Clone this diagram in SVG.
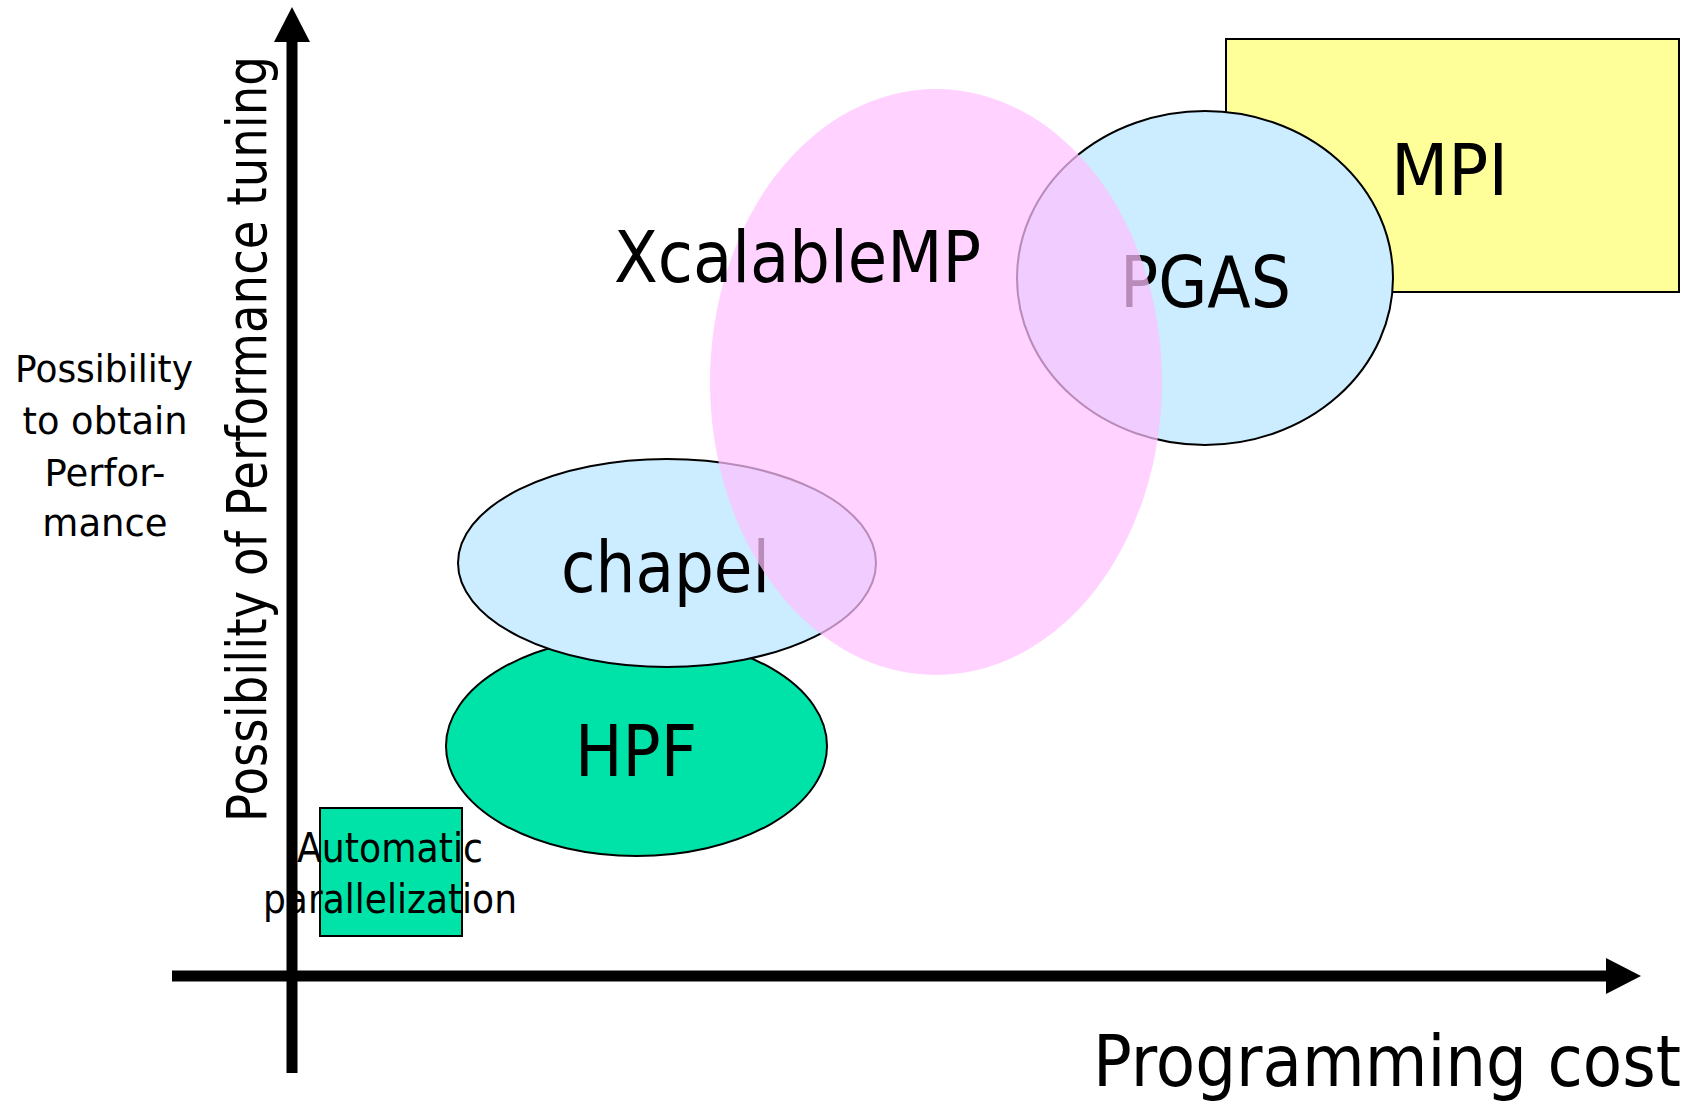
<svg xmlns="http://www.w3.org/2000/svg" width="1695" height="1104" viewBox="0 0 1695 1104">
<style>
.t{font-family:"DejaVu Sans","Liberation Sans",sans-serif;fill:#000}
.big{font-size:72px}
.ol{stroke:#000;stroke-width:2}
</style>
<rect width="1695" height="1104" fill="#fff"/>
<g id="mpi">
<rect x="1226" y="39" width="453" height="253" fill="#FFFF99" class="ol"/>
<text class="t big" x="1391" y="195" textLength="117" lengthAdjust="spacingAndGlyphs">MPI</text>
</g>
<g id="pgas">
<ellipse cx="1205" cy="278" rx="188" ry="167" fill="#CCECFF" class="ol"/>
<text class="t big" x="1120" y="307" textLength="171" lengthAdjust="spacingAndGlyphs">PGAS</text>
</g>
<g id="hpf">
<ellipse cx="636.5" cy="746" rx="190.5" ry="110" fill="#00E3A8" class="ol"/>
<text class="t big" x="575" y="776" textLength="122" lengthAdjust="spacingAndGlyphs">HPF</text>
</g>
<g id="chapel">
<ellipse cx="667" cy="563" rx="209" ry="104" fill="#CCECFF" class="ol"/>
<text class="t big" x="561" y="592" textLength="209" lengthAdjust="spacingAndGlyphs">chapel</text>
</g>
<g id="xcalablemp">
<ellipse cx="936" cy="382" rx="226" ry="293" fill="#FFC0FF" fill-opacity="0.72"/>
<text class="t big" x="614" y="282" textLength="367" lengthAdjust="spacingAndGlyphs">XcalableMP</text>
</g>
<g id="auto">
<rect x="320" y="808" width="142" height="128" fill="#00E3A8" class="ol"/>
<text class="t" font-size="40" x="297" y="862" textLength="186" lengthAdjust="spacingAndGlyphs">Automatic</text>
<text class="t" font-size="40" x="263" y="913" textLength="254" lengthAdjust="spacingAndGlyphs">parallelization</text>
</g>
<g id="axes">
<line x1="292" y1="40" x2="292" y2="1073" stroke="#000" stroke-width="11"/>
<polygon points="292,7 274,42 310,42" fill="#000"/>
<line x1="172" y1="976" x2="1608" y2="976" stroke="#000" stroke-width="11"/>
<polygon points="1641,976 1606,958 1606,994" fill="#000"/>
</g>
<g id="labels">
<text class="t" font-size="56" transform="translate(266,439) rotate(-90)" text-anchor="middle" textLength="766" lengthAdjust="spacingAndGlyphs">Possibility of Performance tuning</text>
<text class="t" font-size="72" x="1093" y="1086" textLength="588" lengthAdjust="spacingAndGlyphs">Programming cost</text>
<g font-size="37" text-anchor="middle">
<text class="t" x="104" y="382" textLength="178" lengthAdjust="spacingAndGlyphs">Possibility</text>
<text class="t" x="105" y="434" textLength="165" lengthAdjust="spacingAndGlyphs">to obtain</text>
<text class="t" x="105" y="486">Perfor-</text>
<text class="t" x="105" y="536">mance</text>
</g>
</g>
</svg>
